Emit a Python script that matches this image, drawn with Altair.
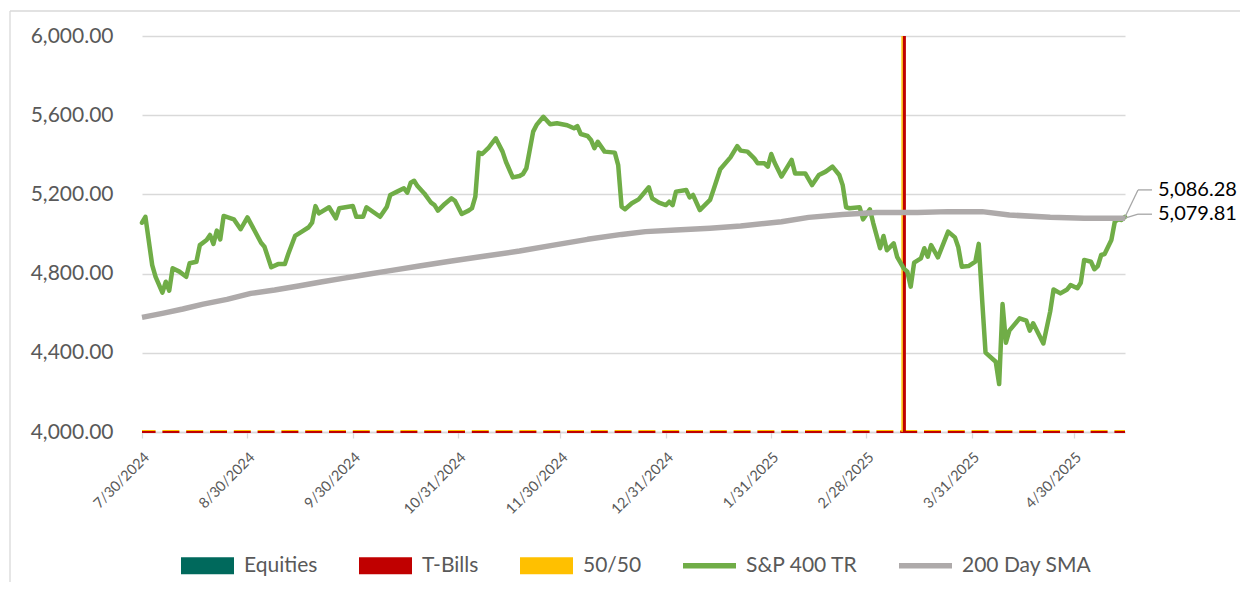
import altair as alt
import pandas as pd
from datetime import datetime, timedelta

# ---------------- data ----------------
START = datetime(2024, 7, 30)
END = datetime(2025, 5, 15)

# S&P 400 TR: day offsets from 7/30/2024 and index values
SP_DAY = [0, 1, 3, 4, 6, 7, 8, 9, 11, 13, 14, 16, 17, 19, 20, 21, 22, 23, 24, 27,
          29, 31, 33, 35, 36, 38, 40, 42, 43, 45, 47, 49, 50, 51, 52, 55, 57, 58, 62, 63,
          65, 66, 70, 72, 73, 75, 77, 78, 79, 80, 81, 83, 85, 86, 87, 89, 91, 92, 94, 96,
          97, 98, 99, 100, 102, 103, 104, 106, 107, 109, 111, 112, 113, 115, 116, 118, 120, 122, 125, 127,
          128, 129, 131, 132, 133, 134, 136, 139, 140, 141, 142, 144, 146, 149, 150, 152, 154, 155, 156, 157,
          160, 161, 162, 164, 167, 168, 170, 173, 175, 176, 178, 180, 181, 183, 184, 185, 186, 188, 191, 192,
          195, 197, 199, 201, 203, 205, 206, 207, 208, 211, 212, 214, 215, 217, 218, 219, 221, 222, 224, 225,
          226, 227, 229, 230, 231, 232, 234, 237, 239, 240, 241, 243, 245, 246, 247, 248, 251, 252, 253, 254,
          255, 258, 260, 261, 262, 265, 267, 268, 270, 272, 273, 275, 276, 277, 279, 280, 281, 282, 283, 285,
          286, 287, 288, 289]
SP_VAL = [5057, 5087, 4843, 4784, 4704, 4759, 4714, 4827, 4810, 4784, 4852, 4860, 4944, 4970, 4995, 4950, 5017, 4973, 5091, 5074,
          5024, 5084, 5020, 4956, 4936, 4832, 4848, 4848, 4899, 4990, 5012, 5034, 5057, 5141, 5104, 5135, 5079, 5130, 5141, 5087,
          5087, 5135, 5087, 5138, 5197, 5214, 5231, 5209, 5259, 5269, 5242, 5205, 5158, 5146, 5118, 5152, 5180, 5168, 5101, 5118,
          5130, 5189, 5411, 5404, 5438, 5461, 5483, 5416, 5365, 5286, 5293, 5303, 5332, 5517, 5551, 5592, 5554, 5559, 5549, 5534,
          5545, 5505, 5495, 5475, 5433, 5466, 5416, 5411, 5348, 5138, 5125, 5155, 5175, 5236, 5180, 5158, 5146, 5163, 5146, 5214,
          5222, 5185, 5197, 5121, 5172, 5222, 5327, 5387, 5444, 5421, 5416, 5382, 5357, 5357, 5340, 5404, 5360, 5290, 5374, 5306,
          5306, 5247, 5298, 5315, 5340, 5298, 5247, 5135, 5130, 5135, 5074, 5125, 5054, 4928, 4990, 4918, 4953, 4885, 4825, 4810,
          4734, 4855, 4877, 4928, 4885, 4944, 4882, 5012, 4983, 4933, 4835, 4838, 4860, 4950, 4667, 4401, 4355, 4242, 4646, 4451,
          4512, 4574, 4562, 4512, 4549, 4447, 4608, 4720, 4700, 4720, 4742, 4726, 4754, 4869, 4860, 4822, 4838, 4894, 4899, 4970,
          5062, 5074, 5071, 5086.28]

# 200 Day SMA
SMA_DAY = [0, 6, 12, 18, 25, 32, 39, 46, 53, 59, 65, 73, 82, 91, 101, 111, 121, 131, 141, 148,
           157, 167, 176, 188, 196, 206, 216, 228, 237, 247, 255, 267, 277, 289]
SMA_VAL = [4579, 4599, 4621, 4646, 4670, 4700, 4717, 4737, 4759, 4776, 4793, 4815, 4840, 4864, 4889, 4914, 4944, 4973, 4998, 5012,
           5020, 5029, 5040, 5062, 5084, 5099, 5108, 5108, 5113, 5113, 5096, 5084, 5079, 5079.81]

SIGNAL_DAY = [224]            # T-Bills signal bar
TICK_DATES = [(2024, 7, 30), (2024, 8, 30), (2024, 9, 30), (2024, 10, 31), (2024, 11, 30),
              (2024, 12, 31), (2025, 1, 31), (2025, 2, 28), (2025, 3, 31), (2025, 4, 30)]
Y_TICKS = [4000, 4400, 4800, 5200, 5600, 6000]
SERIES = ["Equities", "T-Bills", "50/50", "S&P 400 TR", "200 Day SMA"]
COLORS = ["#00695C", "#C00000", "#FFC000", "#70AD47", "#AEAAAA"]
SHAPES = ["M-1,-0.32H1V0.32H-1Z"] * 3 + ["M-1,-0.1H1V0.1H-1Z"] * 2
END_SP = 5086.28
END_SMA = 5079.81

FONT = "Lato"
GREY_TXT = "#595959"
GRID = "#D9D9D9"

# ---------------- frames ----------------
sp = pd.DataFrame({"date": [START + timedelta(days=d) for d in SP_DAY], "value": SP_VAL})
sma = pd.DataFrame({"date": [START + timedelta(days=d) for d in SMA_DAY], "value": SMA_VAL})
sig = pd.DataFrame({"date": [START + timedelta(days=d) for d in SIGNAL_DAY],
                    "lo": [Y_TICKS[0]] * len(SIGNAL_DAY), "hi": [Y_TICKS[-1]] * len(SIGNAL_DAY)})
base_df = pd.DataFrame({"d0": [START], "d1": [END], "value": [Y_TICKS[0]]})
end_sp = pd.DataFrame({"date": [END], "value": [END_SP], "label": [f"{END_SP:,.2f}"]})
end_sma = pd.DataFrame({"date": [END], "value": [END_SMA], "label": [f"{END_SMA:,.2f}"]})
leg = pd.DataFrame({"series": SERIES})
frame_df = pd.DataFrame({"k": [0]})

x_scale = alt.Scale(domain=[alt.DateTime(year=START.year, month=START.month, date=START.day),
                            alt.DateTime(year=END.year, month=END.month, date=END.day)])
y_scale = alt.Scale(domain=[Y_TICKS[0], Y_TICKS[-1]], nice=False)

x_axis = alt.Axis(values=[alt.DateTime(year=y, month=m, date=d) for (y, m, d) in TICK_DATES],
                  format="%-m/%-d/%Y", labelAngle=-45, grid=False, title=None,
                  domainColor=GRID, domainWidth=1.3, tickColor=GRID, tickWidth=1.3, tickSize=6,
                  labelFont=FONT, labelFontSize=14.5, labelColor=GREY_TXT, labelPadding=12)
y_axis = alt.Axis(values=Y_TICKS, format=",.2f", grid=True, gridColor=GRID, gridWidth=1.3,
                  domain=False, ticks=False, title=None, labelPadding=29,
                  labelFont=FONT, labelFontSize=21, labelColor=GREY_TXT)

X = alt.X("date:T", scale=x_scale, axis=x_axis)
Y = alt.Y("value:Q", scale=y_scale, axis=y_axis)

# chart frame (decoration): top and left edges only
frame_top = alt.Chart(frame_df).mark_rule(color=GRID, strokeWidth=1.3).encode(
    x=alt.value(-132), x2=alt.value(1100), y=alt.value(-25))
frame_left = alt.Chart(frame_df).mark_rule(color=GRID, strokeWidth=1.3).encode(
    x=alt.value(-132), y=alt.value(-25), y2=alt.value(546))

# bottom strip of daily allocation columns at the baseline
strip_red = alt.Chart(base_df).mark_rule(color="#C00000", strokeWidth=2, strokeDash=[17, 6.8],
                                         strokeDashOffset=3.4).encode(
    x=alt.X("d0:T", scale=x_scale, axis=x_axis), x2="d1:T", y=alt.Y("value:Q", scale=y_scale, axis=y_axis))
strip_yel = alt.Chart(base_df).mark_rule(color="#FFC000", strokeWidth=1, strokeDash=[17, 6.8],
                                         strokeDashOffset=3.4, yOffset=-1.5).encode(
    x=alt.X("d0:T", scale=x_scale), x2="d1:T", y=alt.Y("value:Q", scale=y_scale))

# T-Bills signal bar
sig_y = alt.Chart(sig).mark_rule(color="#FFC000", strokeWidth=1.5, xOffset=-1.8).encode(
    x=alt.X("date:T", scale=x_scale), y=alt.Y("lo:Q", scale=y_scale), y2="hi:Q")
sig_r = alt.Chart(sig).mark_rule(color="#C00000", strokeWidth=3, xOffset=0.5).encode(
    x=alt.X("date:T", scale=x_scale), y=alt.Y("lo:Q", scale=y_scale), y2="hi:Q")

sp_line = alt.Chart(sp).mark_line(color="#70AD47", strokeWidth=4.5, strokeJoin="round", strokeCap="round").encode(x=X, y=Y)
sma_line = alt.Chart(sma).mark_line(color="#AEAAAA", strokeWidth=5.5, strokeJoin="round").encode(x=X, y=Y)

# end-value labels with leader lines
def end_label(df, dy):
    lead1 = alt.Chart(df).mark_rule(color="#A6A6A6", strokeWidth=1.3, x2Offset=13, y2Offset=dy).encode(
        x=alt.X("date:T", scale=x_scale), y=alt.Y("value:Q", scale=y_scale), x2="date:T", y2="value:Q")
    lead2 = alt.Chart(df).mark_rule(color="#A6A6A6", strokeWidth=1.3, xOffset=13, x2Offset=27,
                                    yOffset=dy, y2Offset=dy).encode(
        x=alt.X("date:T", scale=x_scale), y=alt.Y("value:Q", scale=y_scale), x2="date:T", y2="value:Q")
    txt = alt.Chart(df).mark_text(align="left", baseline="middle", dx=33, dy=dy, font=FONT,
                                  fontSize=20, color="#000000").encode(
        x=alt.X("date:T", scale=x_scale), y=alt.Y("value:Q", scale=y_scale), text="label:N")
    return lead1 + lead2 + txt

lab_sp = end_label(end_sp, -27)
lab_sma = end_label(end_sma, -4)

legend_layer = alt.Chart(leg).mark_point(filled=True, opacity=0).encode(
    color=alt.Color("series:N", scale=alt.Scale(domain=SERIES, range=COLORS),
                    legend=alt.Legend(orient="none", legendX=39, legendY=503, direction="horizontal",
                                      title=None, symbolSize=2809, symbolStrokeWidth=0, symbolOpacity=1,
                                      labelFont=FONT, labelFontSize=21, labelColor=GREY_TXT,
                                      labelOffset=10, columnPadding=41, padding=0)),
    shape=alt.Shape("series:N", scale=alt.Scale(domain=SERIES, range=SHAPES), legend=None),
)

chart = alt.layer(
    frame_top, frame_left, strip_red, strip_yel, sig_y, sig_r, sp_line, sma_line, lab_sp, lab_sma, legend_layer
).properties(
    width=983, height=396,
    autosize=alt.AutoSizeParams(type="none"),
    padding={"left": 134, "top": 28, "right": 115, "bottom": 150},
    background="white",
).configure(font=FONT).configure_view(stroke=None)

chart.save("out.html", embed_options={"renderer": "svg", "actions": False})
